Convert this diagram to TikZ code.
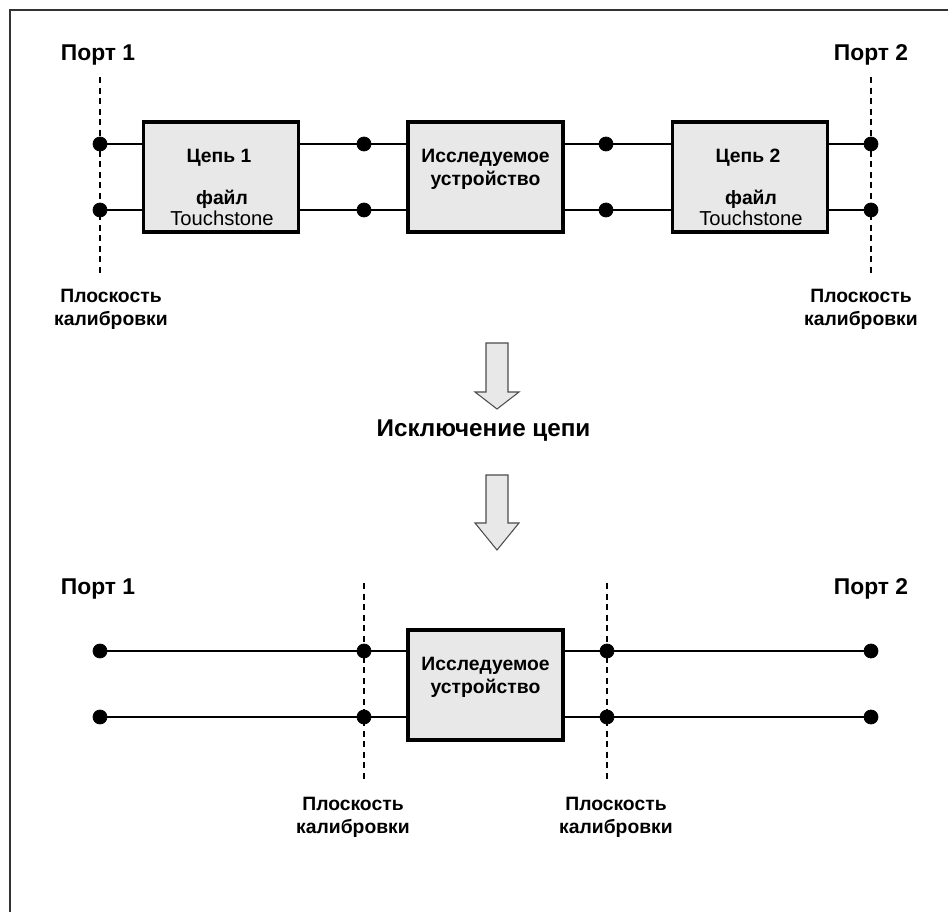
\documentclass[tikz,border=0pt]{standalone}
\usepackage{fontspec}
\setmainfont{Liberation Sans}
\usetikzlibrary{calc, positioning}
\definecolor{boxgray}{HTML}{E8E8E8}

\begin{document}
\begin{tikzpicture}[x=0.02cm, y=-0.02cm,
  blk/.style={draw, line width=2.2pt, fill=boxgray, minimum width=3.1cm, minimum height=2.2cm, inner sep=0pt},
  dot/.style={draw, circle, fill=black, inner sep=0pt, minimum size=0.28cm},
  wire/.style={line width=0.8pt},
  plane/.style={line width=0.8pt, dash pattern=on 3.4pt off 2.6pt},
  port/.style={font=\fontsize{13}{15}\selectfont\bfseries},
  cal/.style={font=\fontsize{11}{13}\selectfont\bfseries, align=center},
  txt/.style={font=\fontsize{11}{13}\selectfont\bfseries, align=center},
  arr/.style={draw=black!70, fill=boxgray, line width=0.6pt}]
\useasboundingbox (0,0) rectangle (948,912);
\draw[line width=1.1pt, black!80] (10,912) -- (10,10) -- (948,10);

% before de-embedding
\coordinate (t1) at (100,77);  \coordinate (u1) at (100,277);
\coordinate (t4) at (871,77);  \coordinate (u4) at (871,277);
\draw[plane] (t1) -- (u1);
\draw[plane] (t4) -- (u4);
\node[port] (port1) at (98,55) {Порт 1};
\node[port] (port2) at (871,55) {Порт 2};
\node[cal] (cal1) at (111,309) {Плоскость\\калибровки};
\node[cal] (cal4) at (861,309) {Плоскость\\калибровки};

\node[blk] (c1) at (221,177) {};
\node[blk] (dut) at (485.5,177) {};
\node[blk] (c2) at (750,177) {};
\node[dot] (a1) at (100,144) {};
\node[dot] (b1) at (100,210) {};
\node[dot] (a2) at (364,144) {};
\node[dot] (b2) at (364,210) {};
\node[dot] (a3) at (606,144) {};
\node[dot] (b3) at (606,210) {};
\node[dot] (a4) at (871,144) {};
\node[dot] (b4) at (871,210) {};
\foreach \p in {a1, b1} {
  \draw[wire] (\p) -- (\p -| c1.west);
}
\foreach \p in {a2, b2} {
  \draw[wire] (\p -| c1.east) -- (\p) -- (\p -| dut.west);
}
\foreach \p in {a3, b3} {
  \draw[wire] (\p -| dut.east) -- (\p) -- (\p -| c2.west);
}
\foreach \p in {a4, b4} {
  \draw[wire] (\p -| c2.east) -- (\p);
}

\node[txt] (c1name) at (219,158) {Цепь 1};
\node[txt, font=\fontsize{11}{12}\selectfont\bfseries] (c1file) at (222,208) {файл\\\fontsize{11.5}{12}\selectfont\mdseries Touchstone};
\node[txt] (c2name) at (748,158) {Цепь 2};
\node[txt, font=\fontsize{11}{12}\selectfont\bfseries] (c2file) at (751,208) {файл\\\fontsize{11.5}{12}\selectfont\mdseries Touchstone};
\node[txt] (dutname) at (485.5,169) {Исследуемое\\устройство};

% arrows and title
\draw[arr] (486,343) -- (508,343) -- (508,392) -- (519,392) -- (497,409) -- (475,392) -- (486,392) -- cycle;
\node[font=\fontsize{13.8}{15}\selectfont\bfseries] (deemb) at (483.5,431) {Исключение цепи};
\draw[arr] (486,475) -- (508,475) -- (508,523) -- (519,523) -- (497,550) -- (475,523) -- (486,523) -- cycle;

% after de-embedding
\coordinate (t2) at (364,583); \coordinate (u2) at (364,783);
\coordinate (t3) at (607,583); \coordinate (u3) at (607,783);
\draw[plane] (t2) -- (u2);
\draw[plane] (t3) -- (u3);
\node[port] (port1b) at (98,589) {Порт 1};
\node[port] (port2b) at (871,589) {Порт 2};
\node[cal] (cal2) at (353,817) {Плоскость\\калибровки};
\node[cal] (cal3) at (616,817) {Плоскость\\калибровки};

\node[blk] (dutb) at (485.5,685) {};
\node[dot] (d1) at (100,651) {};
\node[dot] (e1) at (100,717) {};
\node[dot] (d2) at (364,651) {};
\node[dot] (e2) at (364,717) {};
\node[dot] (d3) at (607,651) {};
\node[dot] (e3) at (607,717) {};
\node[dot] (d4) at (871,651) {};
\node[dot] (e4) at (871,717) {};
\foreach \p/\q in {d1/d2, e1/e2} {
  \draw[wire] (\p) -- (\q) -- (\q -| dutb.west);
}
\foreach \p/\q in {d3/d4, e3/e4} {
  \draw[wire] (\p -| dutb.east) -- (\p) -- (\q);
}
\node[txt] (dutbname) at (485.5,677) {Исследуемое\\устройство};
\end{tikzpicture}
\end{document}
